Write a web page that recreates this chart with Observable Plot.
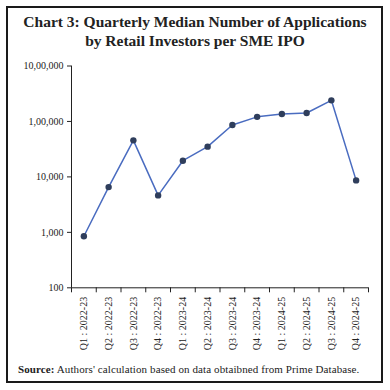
<!DOCTYPE html>
<html>
<head>
<meta charset="utf-8">
<script src="https://cdn.jsdelivr.net/npm/d3@7"></script>
<script src="https://cdn.jsdelivr.net/npm/@observablehq/plot@0.6"></script>
<style>
  html, body { margin: 0; padding: 0; background: #fff; }
  #wrap { position: relative; width: 390px; height: 390px; overflow: hidden; font-family: "Liberation Serif", "DejaVu Serif", serif; }
  #box { position: absolute; left: 6px; top: 6px; width: 373px; height: 373px; border: 2.5px solid #1a1a1a; }
  #title { position: absolute; left: 0; top: 12px; width: 390px; text-align: center; font-weight: bold; font-size: 15.5px; line-height: 19px; color: #222; }
  #chart { position: absolute; left: 0; top: 55px; }
  #source { position: absolute; left: 18px; top: 363px; font-size: 11px; color: #222; white-space: nowrap; letter-spacing: 0.1px; }
</style>
</head>
<body>
<div id="wrap">
  <div id="box"></div>
  <div id="title">Chart 3: Quarterly Median Number of Applications<br>by Retail Investors per SME IPO</div>
  <div id="chart"></div>
  <div id="source"><b>Source:</b> Authors' calculation based on data obtaibned from Prime Database.</div>
</div>
<script>
const quarters = ["Q1 : 2022-23","Q2 : 2022-23","Q3 : 2022-23","Q4 : 2022-23",
                  "Q1 : 2023-24","Q2 : 2023-24","Q3 : 2023-24","Q4 : 2023-24",
                  "Q1 : 2024-25","Q2 : 2024-25","Q3 : 2024-25","Q4 : 2024-25"];
const applications = [850, 6550, 45600, 4640, 19600, 35100, 86100, 121000, 136000, 141800, 240400, 8650];
const yTicks = [100, 1000, 10000, 100000, 1000000];
const yTickLabels = ["100", "1,000", "10,000", "1,00,000", "10,00,000"];

const data = quarters.map((q, i) => ({i, q, v: applications[i]}));
const centers = quarters.map((q, i) => i + 0.5);
const bounds = d3.range(quarters.length + 1);

const plot = Plot.plot({
  width: 390,
  height: 310,
  marginLeft: 71,
  marginRight: 22,
  marginTop: 10.5,
  marginBottom: 77.7,
  style: {fontFamily: "Liberation Serif, DejaVu Serif, serif", fontSize: "10px", color: "#222", background: "transparent"},
  x: {type: "linear", domain: [0, quarters.length]},
  y: {type: "log", domain: [100, 1000000]},
  marks: [
    Plot.axisY({ticks: yTicks, tickFormat: d => yTickLabels[yTicks.indexOf(d)], tickSize: 4, tickPadding: 4, label: null, fontSize: 10, stroke: "#222"}),
    Plot.axisX({ticks: bounds, tickFormat: () => "", tickSize: 5, label: null, stroke: "#222"}),
    Plot.axisX({ticks: centers, tickFormat: d => quarters[Math.round(d - 0.5)], tickSize: 0, tickPadding: 9, tickRotate: -90, label: null, fontSize: 10}),
    Plot.ruleX([0], {stroke: "#222", strokeWidth: 1}),
    Plot.ruleY([100], {stroke: "#222", strokeWidth: 1}),
    Plot.line(data, {x: d => d.i + 0.5, y: "v", stroke: "#4a6cc0", strokeWidth: 1.5}),
    Plot.dot(data, {x: d => d.i + 0.5, y: "v", r: 3.2, fill: "#2f3e5c", stroke: "none"})
  ]
});
document.getElementById("chart").appendChild(plot);
</script>
</body>
</html>
